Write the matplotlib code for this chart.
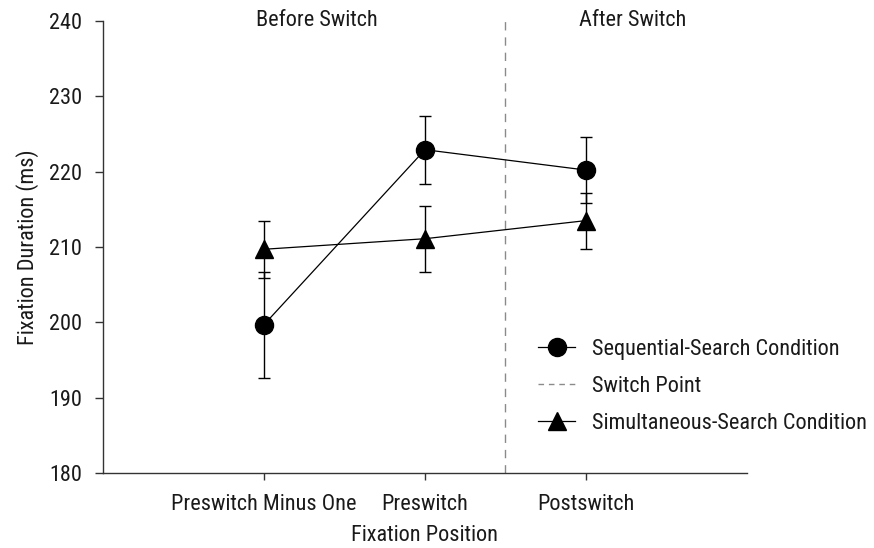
import matplotlib
matplotlib.use("Agg")
import matplotlib.pyplot as plt
from matplotlib.lines import Line2D

plt.rcParams['font.family'] = ['Roboto Condensed', 'Archivo Narrow', 'DejaVu Sans']

positions = ["Preswitch Minus One", "Preswitch", "Postswitch"]
x_pos = [1, 2, 3]
seq_vals = [199.7, 222.9, 220.2]
seq_err = [7.0, 4.5, 4.4]
sim_vals = [209.7, 211.1, 213.5]
sim_err = [3.8, 4.4, 3.7]
switch_x = 2.5
y_ticks = [180, 190, 200, 210, 220, 230, 240]

FS = 16

fig = plt.figure(figsize=(8.74, 5.48), dpi=100)
ax = fig.add_axes([0.1178, 0.1363, 0.7369, 0.8259])

txt = '#1a1a1a'
ax.axvline(switch_x, color='#8a8a8a', lw=1.0, dashes=(6, 5), zorder=1)

ax.errorbar(x_pos, seq_vals, yerr=seq_err, color='black', lw=0.9, elinewidth=1.0,
            capsize=4, capthick=1.0, marker='o', markersize=13, zorder=3)
ax.errorbar(x_pos, sim_vals, yerr=sim_err, color='black', lw=0.9, elinewidth=1.0,
            capsize=4, capthick=1.0, marker='^', markersize=12.5, zorder=3)

ax.set_xlim(0, 4)
ax.set_ylim(180, 240)
ax.set_yticks(y_ticks)
ax.set_xticks(x_pos)
ax.set_xticklabels(positions)
for s in ['top', 'right']:
    ax.spines[s].set_visible(False)
for s in ['left', 'bottom']:
    ax.spines[s].set_color('#333333')
    ax.spines[s].set_linewidth(1.0)
ax.tick_params(direction='out', width=1.0, color='#333333',
               labelsize=FS, labelcolor=txt)
ax.tick_params(axis='y', length=6, pad=9)
ax.tick_params(axis='x', length=5, pad=10)
ax.set_xlabel("Fixation Position", fontsize=FS, color=txt, labelpad=7)
ax.set_ylabel("Fixation Duration (ms)", fontsize=FS, color=txt, labelpad=7)

ax.text(1.33, 240, "Before Switch", ha='center', va='center', fontsize=FS, color=txt)
ax.text(3.29, 240, "After Switch", ha='center', va='center', fontsize=FS, color=txt)

handles = [
    Line2D([], [], color='black', lw=0.9, marker='o', markersize=13),
    Line2D([], [], color='#8a8a8a', lw=1.0, dashes=(4, 3.5)),
    Line2D([], [], color='black', lw=0.9, marker='^', markersize=12.5),
]
labels = ["Sequential-Search Condition", "Switch Point", "Simultaneous-Search Condition"]
leg = fig.legend(handles, labels, loc='center left', bbox_to_anchor=(0.6156, 0.2956),
                 bbox_transform=fig.transFigure, frameon=False, fontsize=FS,
                 handlelength=1.67, handletextpad=0.77, labelspacing=0.72,
                 borderpad=0, borderaxespad=0)
for t in leg.get_texts():
    t.set_color(txt)

fig.savefig("out.png", dpi=100)
